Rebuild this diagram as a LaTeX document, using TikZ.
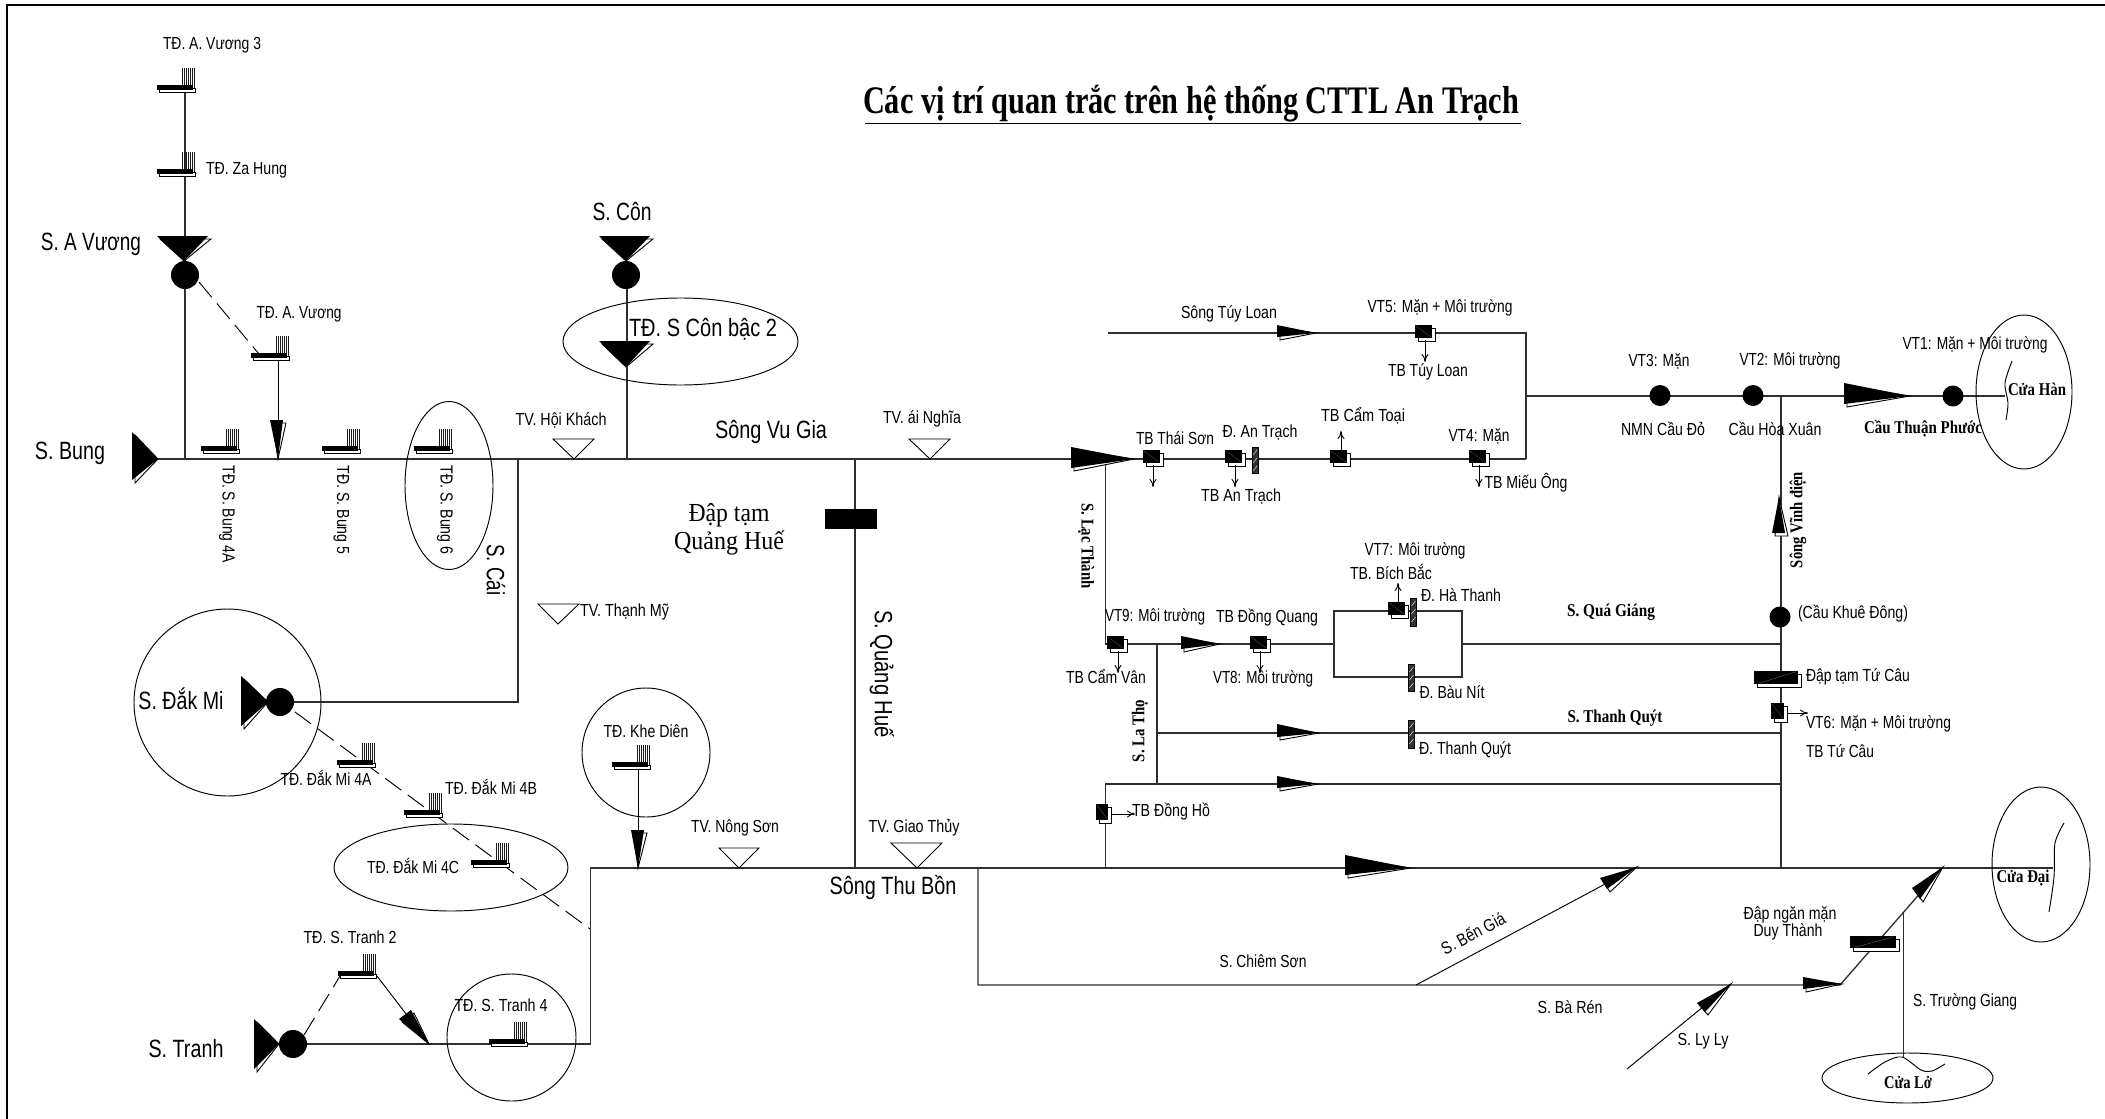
\documentclass[tikz,border=0pt]{standalone}
\usepackage{fontspec}
\usepackage{graphicx}
\setmainfont{Liberation Sans}
\newfontfamily\serifF{Liberation Serif}
\usetikzlibrary{arrows.meta,calc,shapes.geometric}
\newcommand{\W}[2]{\resizebox{#1pt}{\height}{#2}}
% head: tip, two base points
\newcommand{\hd}[3]{%
  \filldraw[fill=white,draw=black,line width=.9pt] (#1) -- ($(#2)+(3,3)$) -- ($(#3)+(3,3)$) -- cycle;
  \fill[black] (#1) -- (#2) -- (#3) -- cycle;}
% pump: left, top, w, h
\newcommand{\pmp}[4]{%
  \filldraw[fill=white,draw=black,line width=.8pt] (#1+3,#2+3) rectangle ++(#3,#4);
  \fill[black] (#1,#2) rectangle ++(#3,#4);
  \draw[black!65,line width=.3pt] (#1+1,#2+1) -- ++(#3-2,#4-2);}
% dam: left, top, bottom
\newcommand{\dam}[3]{%
  \filldraw[fill=black!80,draw=black,line width=.9pt] (#1,#2) rectangle (#1+6,#3);
  \draw[white,line width=.4pt] (#1+1,#2+8) -- (#1+5,#2+3) (#1+1,#2+16) -- (#1+5,#2+11) (#1+1,#2+24) -- (#1+5,#2+19);}
% wide dam: left, top, w, h
\newcommand{\wdam}[4]{%
  \filldraw[fill=white,draw=black,line width=.8pt] (#1+3,#2+3) rectangle ++(#3,#4);
  \fill[black] (#1,#2) rectangle ++(#3,#4);
  \draw[black!55,line width=.3pt] (#1+6,#2+#4-1) -- (#1+#3-3,#2+1);}
% hydropower symbol: left, bar bottom
\newcommand{\tds}[2]{%
  \begin{scope}[shift={(#1,#2)}]
    \foreach \i in {25,27,...,37}{\draw[line width=1pt,black!90] (\i,0) -- (\i,-22.5);}
    \filldraw[fill=white,draw=black,line width=.8pt] (2,-2) rectangle (38.5,2);
    \fill[black] (0,-5) rectangle (36,0);
  \end{scope}}
\tikzset{
  riv/.style={line width=1.3pt,draw=black!82},
  thin line/.style={line width=.95pt,draw=black},
  dsh/.style={line width=.95pt,draw=black,dash pattern=on 20pt off 8pt},
  sa/.style={line width=.9pt,draw=black,-{To[length=8pt,width=7pt]}},
  ell/.style={draw=black,line width=.95pt,ellipse,inner sep=0pt,fill=none},
  dot/.style={circle,fill=black,inner sep=0pt,minimum size=#1},
  gauge/.style={line width=.9pt,draw=black,fill=white},
  txt/.style={inner sep=0pt,outer sep=0pt,text=black},
  sm/.style={txt,font=\fontsize{17.5}{17.5}\selectfont},
  bg/.style={txt,font=\fontsize{25}{25}\selectfont},
  sb/.style={txt,font=\serifF\bfseries\fontsize{18}{18}\selectfont},
  sr/.style={txt,font=\serifF\fontsize{26}{26}\selectfont}
}
\begin{document}
\begin{tikzpicture}[x=1pt,y=-1pt]
\useasboundingbox (0,0) rectangle (2105,1119);
\draw[line width=1.3pt,black] (2105,5) -- (7,5) -- (7,1119);
% ---------- junctions
\coordinate (bung) at (158,459);
\coordinate (avTop) at (185,90);
\coordinate (avJ) at (185,459);
\coordinate (avD) at (199,282);
\coordinate (avT) at (259,354);
\coordinate (avT2) at (278,358);
\coordinate (avJ2) at (278,459);
\coordinate (conTop) at (627,275);
\coordinate (conJ) at (627,459);
\coordinate (caiJ) at (518,459);
\coordinate (caiB) at (518,702);
\coordinate (dmi) at (280,702);
\coordinate (dmD) at (295,712);
\coordinate (dmE) at (590,929);
\coordinate (qhT) at (855,459);
\coordinate (qhB) at (855,868);
\coordinate (lacT) at (1105.5,459);
\coordinate (lacB) at (1105.5,644);
\coordinate (e) at (1526,459);
\coordinate (tlS) at (1108,333);
\coordinate (tlE) at (1526,333);
\coordinate (hJ) at (1526,396);
\coordinate (boxL) at (1334,644);
\coordinate (boxR) at (1462,644);
\coordinate (boxTL) at (1334,611);
\coordinate (boxTR) at (1462,611);
\coordinate (boxBL) at (1334,677);
\coordinate (boxBR) at (1462,677);
\coordinate (vdT) at (1781,396);
\coordinate (vdQ) at (1781,644);
\coordinate (vdTQ) at (1781,733);
\coordinate (vdDH) at (1781,784);
\coordinate (vdB) at (1781,868);
\coordinate (coastH) at (2005,396);
\coordinate (ltT) at (1157,644);
\coordinate (ltQ) at (1157,733);
\coordinate (ltB) at (1157,784);
\coordinate (dhT) at (1105.5,784);
\coordinate (dhB) at (1105.5,868);
\coordinate (tbS) at (590.5,868);
\coordinate (tbW) at (590.5,1044);
\coordinate (trC) at (293,1044);
\coordinate (coastD) at (2053,868);
\coordinate (kd) at (638,767);
\coordinate (kdB) at (638,868);
\coordinate (csT) at (978,868);
\coordinate (csB) at (978,985);
\coordinate (brE) at (1840,985);
\coordinate (dnT) at (1943,867);
\coordinate (bgS) at (1416,985);
\coordinate (bgT) at (1637,867);
\coordinate (lyS) at (1627,1069);
\coordinate (lyT) at (1731,984);
\coordinate (tgT) at (1903.5,913);
\coordinate (tgB) at (1903.5,1057);
\coordinate (tr2L) at (304,1035);
\coordinate (tr2R) at (340,976);
\coordinate (tr2A) at (377,976);
\coordinate (tr2B) at (429,1044);
% ---------- rivers
\draw[riv] (bung) -- (e);
\draw[riv] (avTop) -- (avJ);
\draw[thin line] (avT2) -- (avJ2);
\draw[dsh] (avD) -- (avT);
\draw[riv] (conTop) -- (conJ);
\draw[riv] (caiJ) -- (caiB) -- (dmi);
\draw[dsh] (dmD) -- (dmE);
\draw[riv] (qhT) -- (qhB);
\draw[riv] (lacT) -- (lacB) -- (boxL);
\draw[riv] (boxTL) -- (boxTR) -- (boxBR) -- (boxBL) -- cycle;
\draw[riv] (boxR) -- (vdQ);
\draw[riv] (tlS) -- (tlE) -- (e);
\draw[riv] (hJ) -- (coastH);
\draw[riv] (vdT) -- (vdB);
\draw[riv] (ltT) -- (ltB);
\draw[riv] (ltQ) -- (vdTQ);
\draw[riv] (dhB) -- (dhT) -- (vdDH);
\draw[riv] (trC) -- (tbW) -- (tbS) -- (coastD);
\draw[thin line] (kd) -- (kdB);
\draw[riv] (csT) -- (csB) -- (brE) -- (dnT);
\draw[thin line] (bgS) -- (bgT);
\draw[thin line] (lyS) -- (lyT);
\draw[riv] (tgT) -- (tgB);
\draw[dsh] (tr2L) -- (tr2R);
\draw[thin line] (tr2A) -- (tr2B);
% ---------- heads
\hd{184,261}{157,236}{208,236}
\hd{626,261}{599,236}{650,236}
\hd{626,367}{599,341}{650,341}
\hd{158,459}{132,432}{132,480}
\hd{268,702}{241,676}{241,726}
\hd{279,1044}{254,1019}{254,1069}
\hd{278,459}{270,420}{283,420}
\hd{638,868}{631,830}{644,830}
\hd{429,1044}{399,1019}{411,1010}
\hd{1134,459}{1071,447}{1071,468}
\hd{1316,333}{1277,325}{1277,337}
\hd{1220,644}{1181,636}{1181,649}
\hd{1910,396}{1844,383}{1844,404}
\hd{1779,497}{1772,533}{1785,533}
\hd{1319,733}{1277,724}{1277,737}
\hd{1318,784}{1277,776}{1277,788}
\hd{1411,868}{1345,855}{1345,875}
\hd{1637,867}{1600,878}{1607,889}
\hd{1842,984}{1803,977}{1803,989}
\hd{1943,867}{1912,888}{1920,899}
\hd{1731,984}{1697,1003}{1705,1012}
% ---------- dots
\node[dot=28pt] (avC) at (185,275) {};
\node[dot=28pt] (conC) at (626,275) {};
\node[dot=28pt] (dmC) at (280,702) {};
\node[dot=28pt] (trCc) at (293,1044) {};
\node[dot=21pt] (vt3) at (1660,395.5) {};
\node[dot=21pt] (vt2) at (1753,395.5) {};
\node[dot=21pt] (vt1) at (1953,396) {};
\node[dot=21pt] (kdg) at (1780,617) {};
% ---------- TD symbols
\tds{157}{90}
\tds{157}{174}
\tds{251}{358}
\tds{201}{451}
\tds{322}{451}
\tds{414}{451}
\tds{337}{765}
\tds{404}{815}
\tds{471}{865}
\tds{612}{767}
\tds{338}{976}
\tds{489}{1044}
% ---------- gauges
\draw[gauge] (553,439) -- (594,439) -- (574,459) -- cycle;
\draw[gauge] (909,439) -- (950,439) -- (930,459) -- cycle;
\draw[gauge] (538,604) -- (579,604) -- (558,624) -- cycle;
\draw[gauge] (719,848) -- (759,848) -- (739,868) -- cycle;
\draw[gauge] (891,843) -- (942,843) -- (917,868) -- cycle;
% ---------- pumps
\pmp{1415}{325}{17}{13}
\pmp{1143}{450}{17}{13}
\pmp{1225}{450}{17}{13}
\pmp{1330}{450}{17}{13}
\pmp{1469}{450}{17}{13}
\pmp{1107}{636}{17}{13}
\pmp{1250}{636}{17}{13}
\pmp{1388}{602}{17}{13}
\pmp{1771}{703}{13}{16}
\pmp{1096}{804}{12}{16}
\coordinate (a1) at (1425,340); \coordinate (a1e) at (1425,362);
\coordinate (a2) at (1153,465); \coordinate (a2e) at (1153,487);
\coordinate (a3) at (1235,465); \coordinate (a3e) at (1235,487);
\coordinate (a4) at (1341,452); \coordinate (a4e) at (1341,431);
\coordinate (a5) at (1479,465); \coordinate (a5e) at (1479,487);
\coordinate (a6) at (1118,651); \coordinate (a6e) at (1118,673);
\coordinate (a7) at (1260,651); \coordinate (a7e) at (1260,673);
\coordinate (a8) at (1398,602); \coordinate (a8e) at (1398,583);
\coordinate (a9) at (1787,713); \coordinate (a9e) at (1808,713);
\coordinate (a10) at (1111,814); \coordinate (a10e) at (1135,814);
\foreach \i in {1,...,10}{\draw[sa] (a\i) -- (a\i e);}
% ---------- dams
\dam{1252}{447}{473}
\dam{1410.5}{598}{626}
\dam{1408.5}{664}{691}
\dam{1408.5}{720}{748}
\fill[black] (825,509) rectangle (877,529);
\wdam{1754}{671}{44}{13}
\wdam{1850}{936}{46}{12}
% ---------- ellipses
\node[ell,minimum width=235pt,minimum height=87pt] (e1) at (680.5,341.5) {};
\node[ell,minimum width=88pt,minimum height=168pt] (e2) at (449,485.5) {};
\node[ell,minimum width=187pt,minimum height=187pt] (e3) at (227.5,702.5) {};
\node[ell,minimum width=234pt,minimum height=87pt] (e4) at (451,867.5) {};
\node[ell,minimum width=128pt,minimum height=129pt] (e5) at (646,752.5) {};
\node[ell,minimum width=129pt,minimum height=127pt] (e6) at (511.5,1037.5) {};
\node[ell,minimum width=96pt,minimum height=154pt] (e7) at (2024,392) {};
\node[ell,minimum width=98pt,minimum height=155pt] (e8) at (2041,864.5) {};
\node[ell,minimum width=171pt,minimum height=50pt] (e9) at (1907.5,1078) {};
% ---------- coast lines
\draw[thin line] plot[smooth] coordinates {(2012,361) (2005,383) (2008,403) (2006,420)};
\draw[thin line] plot[smooth] coordinates {(2064,823) (2055,843) (2054,877) (2049,912)};
\draw[thin line] plot[smooth] coordinates {(1868,1074) (1885,1062) (1902,1057) (1921,1070) (1932,1071) (1945,1064)};
% ---------- title
\node[txt,font=\serifF\bfseries\fontsize{39}{39}\selectfont] (title) at (1191,104) {\W{656}{Các vị trí quan trắc trên hệ thống CTTL An Trạch}};
\coordinate (ulL) at (865,123.5); \coordinate (ulR) at (1521,123.5);
\draw[line width=1.2pt,black] (ulL) -- (ulR);
% ---------- labels
\node[sm] (t1) at (212,45) {\W{98}{TĐ. A. Vương 3}};
\node[sm,anchor=west] (t2) at (206,170) {\W{81}{TĐ. Za Hung}};
\node[bg] (t3) at (91,244) {\W{100}{S. A Vương}};
\node[sm] (t4) at (299,314) {\W{85}{TĐ. A. Vương}};
\node[bg] (t5) at (622,212) {\W{59}{S. Côn}};
\node[bg] (t6) at (703,329) {\W{148}{TĐ. S Côn bậc 2}};
\node[bg] (t7) at (70,453) {\W{70}{S. Bung}};
\node[sm] (t8) at (561,420) {\W{91}{TV. Hội Khách}};
\node[bg] (t9) at (771,432) {\W{112}{Sông Vu Gia}};
\node[sm] (t10) at (922,419) {\W{78}{TV. ái Nghĩa}};
\node[sr] (t11) at (729,515) {\W{81}{Đập tạm}};
\node[sr] (t12) at (729,543) {\W{110}{Quảng Huế}};
\node[sm,rotate=-90] (t13) at (227,514) {\W{97}{TĐ. S. Bung 4A}};
\node[sm,rotate=-90] (t14) at (341.5,510) {\W{89}{TĐ. S. Bung 5}};
\node[sm,rotate=-90] (t15) at (445,510) {\W{89}{TĐ. S. Bung 6}};
\node[bg,rotate=-90] (t16) at (496,570) {\W{51}{S. Cái}};
\node[sm,anchor=west] (t17) at (580,612) {\W{89}{TV. Thạnh Mỹ}};
\node[bg] (t18) at (181,699) {\W{85}{S. Đắk Mi}};
\node[sm] (t19) at (326,778) {\W{91}{TĐ. Đắk Mi 4A}};
\node[sm] (t20) at (491,787) {\W{92}{TĐ. Đắk Mi 4B}};
\node[sm] (t21) at (413,866) {\W{92}{TĐ. Đắk Mi 4C}};
\node[sm] (t22) at (646,731) {\W{85}{TĐ. Khe Diên}};
\node[sm] (t23) at (350,937) {\W{93}{TĐ. S. Tranh 2}};
\node[sm] (t24) at (501,1005) {\W{93}{TĐ. S. Tranh 4}};
\node[bg] (t25) at (186,1049) {\W{75}{S. Tranh}};
\node[sm] (t26) at (735,828) {\W{88}{TV. Nông Sơn}};
\node[sm] (t27) at (914,828) {\W{91}{TV. Giao Thủy}};
\node[bg] (t28) at (893,887) {\W{127}{Sông Thu Bồn}};
\node[bg,rotate=-90] (t29) at (882,674) {\W{128}{S. Quảng Huế}};
\node[sm] (t30) at (1229,314) {\W{96}{Sông Túy Loan}};
\node[sm] (t31) at (1440,308) {\W{145}{VT5: Mặn + Môi trường}};
\node[sm] (t32) at (1428,372) {\W{80}{TB Túy Loan}};
\node[sm] (t33) at (1175,438) {\W{78}{TB Thái Sơn}};
\node[sm] (t34) at (1260,432) {\W{75}{Đ. An Trạch}};
\node[sm] (t35) at (1241,496) {\W{80}{TB An Trạch}};
\node[sm] (t36) at (1363,416) {\W{84}{TB Cẩm Toại}};
\node[sm] (t37) at (1479,436) {\W{61}{VT4: Mặn}};
\node[sm] (t38) at (1526,483) {\W{83}{TB Miếu Ông}};
\node[sb,rotate=-90] (t39) at (1086,546) {\W{85}{S. Lạc Thành}};
\node[sm] (t40) at (1155,617) {\W{100}{VT9: Môi trường}};
\node[sm] (t41) at (1106,677) {\W{80}{TB Cẩm Vân}};
\node[sm] (t42) at (1267,618) {\W{102}{TB Đồng Quang}};
\node[sm] (t43) at (1263,679) {\W{100}{VT8: Môi trường}};
\node[sm] (t44) at (1415,551) {\W{101}{VT7: Môi trường}};
\node[sm] (t45) at (1391,572) {\W{82}{TB. Bích Bắc}};
\node[sm] (t46) at (1461,595) {\W{80}{Đ. Hà Thanh}};
\node[sm] (t47) at (1452,692) {\W{65}{Đ. Bàu Nít}};
\node[sb] (t48) at (1611,612) {\W{88}{S. Quá Giáng}};
\node[sb] (t49) at (1615,718) {\W{95}{S. Thanh Quýt}};
\node[sb,rotate=90] (t50) at (1140,731) {\W{62}{S. La Thọ}};
\node[sm,anchor=west] (t51) at (1419,750) {\W{92}{Đ. Thanh Quýt}};
\node[sm,anchor=west] (t52) at (1132,812) {\W{78}{TB Đồng Hồ}};
\node[sm] (t53) at (1659,361) {\W{61}{VT3: Mặn}};
\node[sm] (t54) at (1663,429) {\W{84}{NMN Cầu Đỏ}};
\node[sm] (t55) at (1790,361) {\W{101}{VT2: Môi trường}};
\node[sm] (t56) at (1775,429) {\W{93}{Cầu Hòa Xuân}};
\node[sb] (t57) at (1923,429) {\W{118}{Cầu Thuận Phước}};
\node[sm] (t58) at (1975,345) {\W{145}{VT1: Mặn + Môi trường}};
\node[sb] (t59) at (2037,389) {\W{58}{Cửa Hàn}};
\node[sb,rotate=90] (t60) at (1798,520) {\W{96}{Sông Vĩnh điện}};
\node[sm,anchor=west] (t61) at (1798,614) {\W{110}{(Cầu Khuê Đông)}};
\node[sm,anchor=west] (t62) at (1806,677) {\W{104}{Đập tạm Tứ Câu}};
\node[sm,anchor=west] (t63) at (1806,724) {\W{145}{VT6: Mặn + Môi trường}};
\node[sm,anchor=west] (t64) at (1806,751) {\W{68}{TB Tứ Câu}};
\node[sm] (t65) at (1263,961) {\W{87}{S. Chiêm Sơn}};
\node[sm,rotate=28] (t66) at (1473,933) {\W{70}{S. Bến Giá}};
\node[sm] (t67) at (1570,1007) {\W{65}{S. Bà Rén}};
\node[sm] (t68) at (1703,1041) {\W{51}{S. Ly Ly}};
\node[sm] (t69) at (1790,915) {\W{93}{Đập ngăn mặn}};
\node[sm] (t70) at (1788,932) {\W{69}{Duy Thành}};
\node[sm] (t71) at (1965,1002) {\W{104}{S. Trường Giang}};
\node[sb] (t72) at (2023,878) {\W{53}{Cửa Đại}};
\node[sb] (t73) at (1908,1083) {\W{48}{Cửa Lở}};
\end{tikzpicture}
\end{document}
